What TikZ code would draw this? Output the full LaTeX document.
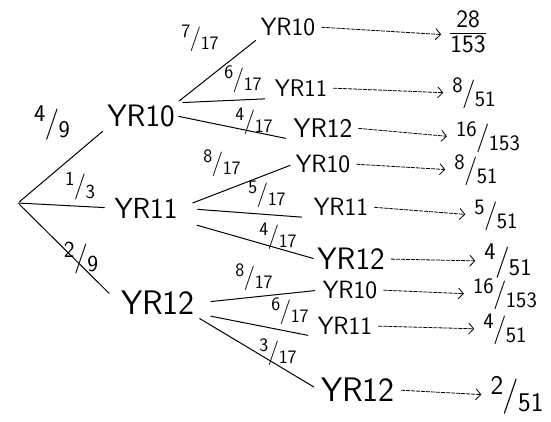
\documentclass[tikz,border=0pt]{standalone}
\usetikzlibrary{arrows.meta}
\newcommand\hfr[2]{\raisebox{0.36em}{#1}\kern-0.03em\raisebox{-0.06em}{\scalebox{1.3}{/}}\kern-0.03em\raisebox{-0.28em}{#2}}
\newcommand\fsz[1]{\fontsize{#1}{#1}\selectfont\sffamily}
\tikzset{
  yr/.style={inner sep=2pt, font=\fsz{25}},
  yrbig/.style={inner sep=2pt, font=\fsz{31}},
  lab/.style={inner sep=0pt, font=\fsz{19}},
  resfr/.style={inner sep=1pt, font=\fsz{22}},
  br/.style={line width=1pt, line cap=round},
  res/.style={line width=0.8pt, dash pattern=on 4pt off 1pt, -{Straight Barb[length=5pt,width=11pt]}, shorten <=4pt, shorten >=8pt}
}
\begin{document}
\begin{tikzpicture}[x=1pt,y=-1pt]
\useasboundingbox (0,0) rectangle (551,421);
% root
\coordinate (r) at (18,203);
% level 1
\node[yrbig] (a10) at (141,116) {YR10};
\node[yrbig, font=\fsz{29}] (a11) at (146,208) {YR11};
\node[yrbig, font=\fsz{34}] (a12) at (158,303) {YR12};
% level 2
\node[yr] (b1) at (288,27) {YR10};
\node[yr, font=\fsz{24}] (b2) at (301,88) {YR11};
\node[yr, font=\fsz{27}] (b3) at (323,128) {YR12};
\node[yr] (b4) at (323,164) {YR10};
\node[yr] (b5) at (341,207) {YR11};
\node[yr, font=\fsz{31}] (b6) at (351,259) {YR12};
\node[yr] (b7) at (350,290) {YR10};
\node[yr] (b8) at (345,326) {YR11};
\node[yr, font=\fsz{34}] (b9) at (358,390) {YR12};
% results
\node[resfr, font=\fsz{25}] (c1) at (468,35) {\begin{tabular}{@{}c@{}}28\\[-2pt]\hline\noalign{\vskip1pt}153\end{tabular}};
\node[resfr] (c2) at (474,93) {\hfr{8}{51}};
\node[resfr] (c3) at (488,137) {\hfr{16}{153}};
\node[resfr] (c4) at (476,170) {\hfr{8}{51}};
\node[resfr] (c5) at (496,215) {\hfr{5}{51}};
\node[resfr, font=\fsz{24}] (c6) at (508,261) {\hfr{4}{51}};
\node[resfr] (c7) at (505,294) {\hfr{16}{153}};
\node[resfr] (c8) at (505,329) {\hfr{4}{51}};
\node[resfr, font=\fsz{27}] (c9) at (517,395) {\hfr{2}{51}};
% branches from root
\draw[br, shorten <=2pt, shorten >=3pt] (r) -- (a10.south west);
\draw[br, shorten >=8pt] (r) -- (a11.west);
\draw[br, shorten <=2pt, shorten >=14pt] (r) -- (a12.west);
% branches level 2
\draw[br, shorten <=3pt, shorten >=4pt] (a10.north east) -- (b1.south west);
\draw[br, shorten <=6pt, shorten >=8pt] (a10.north east) -- (b2.south west);
\draw[br, shorten <=2pt, shorten >=6pt] (a10.east) -- (b3.south west);
\draw[br, shorten <=14pt, shorten >=4pt] (a11.east) -- (b4.west);
\draw[br, shorten <=18pt, shorten >=10pt] (a11.east) -- (b5.south west);
\draw[br, shorten <=18pt, shorten >=2pt] (a11.south east) -- (b6.west);
\draw[br, shorten <=14pt, shorten >=6pt] (a12.east) -- (b7.west);
\draw[br, shorten <=14pt, shorten >=8pt] (a12.-15) -- (b8.south west);
\draw[br, shorten <=3pt, shorten >=6pt] (a12.south east) -- (b9.west);
% labels
\node[lab, font=\fsz{24}] (l1) at (52,123) {\hfr{4}{9}};
\node[lab, font=\fsz{20}] (l2) at (80,186) {\hfr{1}{3}};
\node[lab, font=\fsz{23}] (l3) at (81,258) {\hfr{2}{9}};
\node[lab] (l4) at (200,38) {\hfr{7}{17}};
\node[lab] (l5) at (243,79) {\hfr{6}{17}};
\node[lab] (l6) at (254,121) {\hfr{4}{17}};
\node[lab] (l7) at (222,163) {\hfr{8}{17}};
\node[lab] (l8) at (267,194) {\hfr{5}{17}};
\node[lab] (l9) at (278,236) {\hfr{4}{17}};
\node[lab] (l10) at (254,277) {\hfr{8}{17}};
\node[lab] (l11) at (290,311) {\hfr{6}{17}};
\node[lab] (l12) at (278,352) {\hfr{3}{17}};
% result arrows
\foreach \i in {1,...,9} \draw[res] (b\i.east) -- (c\i.west);
\end{tikzpicture}
\end{document}
